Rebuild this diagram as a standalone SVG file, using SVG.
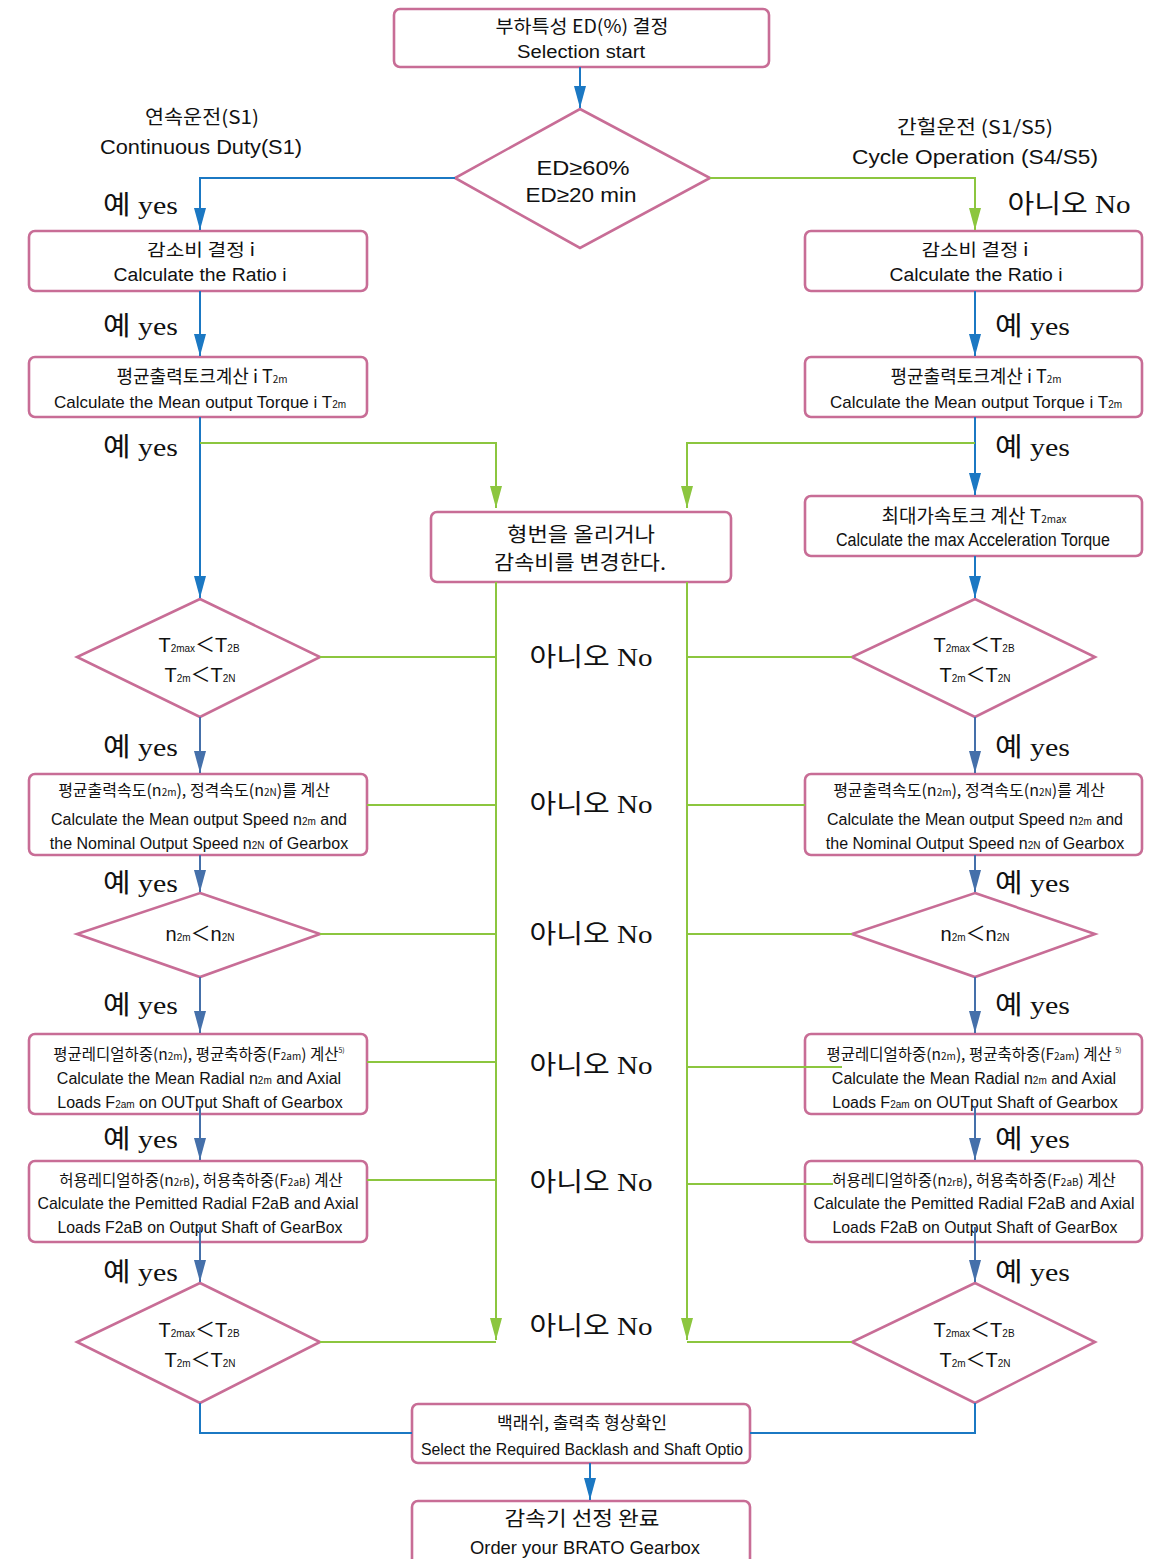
<svg xmlns="http://www.w3.org/2000/svg" width="1166" height="1559" viewBox="0 0 1166 1559">
<style>
.box{fill:#fff;stroke:#c86d96;stroke-width:2.6}
.t{font-family:"Liberation Sans","Noto Sans CJK KR",sans-serif;fill:#111;text-anchor:middle}
.k{font-family:"Noto Sans CJK KR","Liberation Sans",sans-serif;fill:#111;text-anchor:middle}
.s{font-family:"Liberation Serif","Noto Sans CJK KR",serif;fill:#111;font-size:26px}
.n{font-family:"Liberation Serif","Noto Sans CJK KR",serif;fill:#111;font-size:26px;text-anchor:middle}
.b{fill:none;stroke:#1b78c3;stroke-width:2}
.d{fill:none;stroke:#4570aa;stroke-width:2}
.g{fill:none;stroke:#8cc63f;stroke-width:2}
.sub{font-size:10px}
</style>
<defs>
<marker id="ab" viewBox="0 0 22 12" refX="22" refY="6" markerWidth="22" markerHeight="12" markerUnits="userSpaceOnUse" orient="auto"><path d="M0,0 L22,6 L0,12 z" fill="#1b78c3"/></marker>
<marker id="ad" viewBox="0 0 22 12" refX="22" refY="6" markerWidth="22" markerHeight="12" markerUnits="userSpaceOnUse" orient="auto"><path d="M0,0 L22,6 L0,12 z" fill="#4570aa"/></marker>
<marker id="ag" viewBox="0 0 22 12" refX="22" refY="6" markerWidth="22" markerHeight="12" markerUnits="userSpaceOnUse" orient="auto"><path d="M0,0 L22,6 L0,12 z" fill="#8cc63f"/></marker>
</defs>

<g id="start">
<rect class="box" x="394" y="9" width="375" height="58" rx="6"/>
<text class="k" x="582" y="33" font-size="18" textLength="173" lengthAdjust="spacingAndGlyphs">부하특성 ED(%) 결정</text>
<text class="t" x="581" y="58" font-size="18" textLength="128" lengthAdjust="spacingAndGlyphs">Selection start</text>
</g>

<g id="dec-ed">
<polygon class="box" points="580,109 710,178 580,248 455,178"/>
<text class="t" x="583" y="175" font-size="21" textLength="93" lengthAdjust="spacingAndGlyphs">ED≥60%</text>
<text class="t" x="581" y="202" font-size="21" textLength="111" lengthAdjust="spacingAndGlyphs">ED≥20 min</text>
</g>

<g id="labels">
<text class="k" x="202" y="124" font-size="19" textLength="114" lengthAdjust="spacingAndGlyphs">연속운전(S1)</text>
<text class="t" x="201" y="154" font-size="20" textLength="202" lengthAdjust="spacingAndGlyphs">Continuous Duty(S1)</text>
<text class="k" x="975" y="134" font-size="19" textLength="156" lengthAdjust="spacingAndGlyphs">간헐운전 (S1/S5)</text>
<text class="t" x="975" y="164" font-size="20" textLength="246" lengthAdjust="spacingAndGlyphs">Cycle Operation (S4/S5)</text>
<text class="s" x="103" y="214" textLength="75" lengthAdjust="spacingAndGlyphs">예 yes</text>
<text class="s" x="103" y="335" textLength="75" lengthAdjust="spacingAndGlyphs">예 yes</text>
<text class="s" x="103" y="456" textLength="75" lengthAdjust="spacingAndGlyphs">예 yes</text>
<text class="s" x="103" y="756" textLength="75" lengthAdjust="spacingAndGlyphs">예 yes</text>
<text class="s" x="103" y="892" textLength="75" lengthAdjust="spacingAndGlyphs">예 yes</text>
<text class="s" x="103" y="1014" textLength="75" lengthAdjust="spacingAndGlyphs">예 yes</text>
<text class="s" x="103" y="1148" textLength="75" lengthAdjust="spacingAndGlyphs">예 yes</text>
<text class="s" x="103" y="1281" textLength="75" lengthAdjust="spacingAndGlyphs">예 yes</text>
<text class="s" x="995" y="335" textLength="75" lengthAdjust="spacingAndGlyphs">예 yes</text>
<text class="s" x="995" y="456" textLength="75" lengthAdjust="spacingAndGlyphs">예 yes</text>
<text class="s" x="995" y="756" textLength="75" lengthAdjust="spacingAndGlyphs">예 yes</text>
<text class="s" x="995" y="892" textLength="75" lengthAdjust="spacingAndGlyphs">예 yes</text>
<text class="s" x="995" y="1014" textLength="75" lengthAdjust="spacingAndGlyphs">예 yes</text>
<text class="s" x="995" y="1148" textLength="75" lengthAdjust="spacingAndGlyphs">예 yes</text>
<text class="s" x="995" y="1281" textLength="75" lengthAdjust="spacingAndGlyphs">예 yes</text>
<text class="n" x="1069" y="213" textLength="123" lengthAdjust="spacingAndGlyphs">아니오 No</text>
<text class="n" x="591" y="666" textLength="123" lengthAdjust="spacingAndGlyphs">아니오 No</text>
<text class="n" x="591" y="813" textLength="123" lengthAdjust="spacingAndGlyphs">아니오 No</text>
<text class="n" x="591" y="943" textLength="123" lengthAdjust="spacingAndGlyphs">아니오 No</text>
<text class="n" x="591" y="1074" textLength="123" lengthAdjust="spacingAndGlyphs">아니오 No</text>
<text class="n" x="591" y="1191" textLength="123" lengthAdjust="spacingAndGlyphs">아니오 No</text>
<text class="n" x="591" y="1335" textLength="123" lengthAdjust="spacingAndGlyphs">아니오 No</text>
</g>

<g id="ratio-l">
<rect class="box" x="29" y="231" width="338" height="60" rx="6"/>
<text class="k" x="201" y="256" font-size="17" textLength="108" lengthAdjust="spacingAndGlyphs">감소비 결정 i</text>
<text class="t" x="200" y="281" font-size="18" textLength="173" lengthAdjust="spacingAndGlyphs">Calculate the Ratio i</text>
</g>
<g id="ratio-r">
<rect class="box" x="805" y="231" width="337" height="60" rx="6"/>
<text class="k" x="975" y="256" font-size="17" textLength="107" lengthAdjust="spacingAndGlyphs">감소비 결정 i</text>
<text class="t" x="976" y="281" font-size="18" textLength="173" lengthAdjust="spacingAndGlyphs">Calculate the Ratio i</text>
</g>

<g id="torque-l">
<rect class="box" x="29" y="357" width="338" height="60" rx="6"/>
<text class="k" x="202" y="383" font-size="18">평균출력토크계산 i T<tspan class="sub">2m</tspan></text>
<text class="t" x="200" y="408" font-size="17">Calculate the Mean output Torque i T<tspan class="sub">2m</tspan></text>
</g>
<g id="torque-r">
<rect class="box" x="805" y="357" width="337" height="60" rx="6"/>
<text class="k" x="976" y="383" font-size="18">평균출력토크계산 i T<tspan class="sub">2m</tspan></text>
<text class="t" x="976" y="408" font-size="17">Calculate the Mean output Torque i T<tspan class="sub">2m</tspan></text>
</g>

<g id="maxacc-r">
<rect class="box" x="805" y="496" width="337" height="60" rx="6"/>
<text class="k" x="974" y="523" font-size="19">최대가속토크 계산 T<tspan class="sub">2max</tspan></text>
<text class="t" x="973" y="546" font-size="18" textLength="274" lengthAdjust="spacingAndGlyphs">Calculate the max Acceleration Torque</text>
</g>

<g id="change">
<rect class="box" x="431" y="512" width="300" height="70" rx="6"/>
<text class="k" x="581" y="542" font-size="20" textLength="148" lengthAdjust="spacingAndGlyphs">형번을 올리거나</text>
<text class="k" x="580" y="570" font-size="20" textLength="172" lengthAdjust="spacingAndGlyphs">감속비를 변경한다.</text>
</g>

<g id="dec-t-l">
<polygon class="box" points="200,599 320,657 200,717 77,657"/>
<text class="t" x="199" y="652" font-size="20">T<tspan class="sub">2max</tspan>＜T<tspan class="sub">2B</tspan></text>
<text class="t" x="200" y="682" font-size="20">T<tspan class="sub">2m</tspan>＜T<tspan class="sub">2N</tspan></text>
</g>
<g id="dec-t-r">
<polygon class="box" points="975,599 1095,657 975,717 852,657"/>
<text class="t" x="974" y="652" font-size="20">T<tspan class="sub">2max</tspan>＜T<tspan class="sub">2B</tspan></text>
<text class="t" x="975" y="682" font-size="20">T<tspan class="sub">2m</tspan>＜T<tspan class="sub">2N</tspan></text>
</g>

<g id="speed-l">
<rect class="box" x="29" y="774" width="338" height="81" rx="6"/>
<text class="k" x="194" y="796" font-size="16">평균출력속도(n<tspan class="sub">2m</tspan>), 정격속도(n<tspan class="sub">2N</tspan>)를 계산</text>
<text class="t" x="199" y="825" font-size="16">Calculate the Mean output Speed n<tspan class="sub">2m</tspan> and</text>
<text class="t" x="199" y="849" font-size="16">the Nominal Output Speed n<tspan class="sub">2N</tspan> of Gearbox</text>
</g>
<g id="speed-r">
<rect class="box" x="805" y="774" width="337" height="81" rx="6"/>
<text class="k" x="969" y="796" font-size="16">평균출력속도(n<tspan class="sub">2m</tspan>), 정격속도(n<tspan class="sub">2N</tspan>)를 계산</text>
<text class="t" x="975" y="825" font-size="16">Calculate the Mean output Speed n<tspan class="sub">2m</tspan> and</text>
<text class="t" x="975" y="849" font-size="16">the Nominal Output Speed n<tspan class="sub">2N</tspan> of Gearbox</text>
</g>

<g id="dec-n-l">
<polygon class="box" points="200,893 320,934 200,977 77,934"/>
<text class="t" x="200" y="941" font-size="20">n<tspan class="sub">2m</tspan>＜n<tspan class="sub">2N</tspan></text>
</g>
<g id="dec-n-r">
<polygon class="box" points="975,893 1095,934 975,977 852,934"/>
<text class="t" x="975" y="941" font-size="20">n<tspan class="sub">2m</tspan>＜n<tspan class="sub">2N</tspan></text>
</g>

<g id="load-l">
<rect class="box" x="29" y="1034" width="338" height="80" rx="6"/>
<text class="k" x="199" y="1060" font-size="15.5">평균레디얼하중(n<tspan class="sub">2m</tspan>), 평균축하중(F<tspan class="sub">2am</tspan>) 계산<tspan font-size="7" dy="-7">5)</tspan></text>
<text class="t" x="199" y="1084" font-size="16">Calculate the Mean Radial n<tspan class="sub">2m</tspan> and Axial</text>
<text class="t" x="200" y="1108" font-size="16">Loads F<tspan class="sub">2am</tspan> on OUTput Shaft of Gearbox</text>
</g>
<g id="load-r">
<rect class="box" x="805" y="1034" width="337" height="80" rx="6"/>
<text class="k" x="974" y="1060" font-size="15.5">평균레디얼하중(n<tspan class="sub">2m</tspan>), 평균축하중(F<tspan class="sub">2am</tspan>) 계산 <tspan font-size="7" dy="-7">5)</tspan></text>
<text class="t" x="974" y="1084" font-size="16">Calculate the Mean Radial n<tspan class="sub">2m</tspan> and Axial</text>
<text class="t" x="975" y="1108" font-size="16">Loads F<tspan class="sub">2am</tspan> on OUTput Shaft of Gearbox</text>
</g>

<g id="perm-l">
<rect class="box" x="29" y="1161" width="338" height="81" rx="6"/>
<text class="k" x="201" y="1186" font-size="15.5">허용레디얼하중(n<tspan class="sub">2rB</tspan>), 허용축하중(F<tspan class="sub">2aB</tspan>) 계산</text>
<text class="t" x="198" y="1209" font-size="17" textLength="321" lengthAdjust="spacingAndGlyphs">Calculate the Pemitted Radial F2aB and Axial</text>
<text class="t" x="200" y="1233" font-size="17" textLength="285" lengthAdjust="spacingAndGlyphs">Loads F2aB on Output Shaft of GearBox</text>
</g>
<g id="perm-r">
<rect class="box" x="805" y="1161" width="337" height="81" rx="6"/>
<text class="k" x="974" y="1186" font-size="15.5">허용레디얼하중(n<tspan class="sub">2rB</tspan>), 허용축하중(F<tspan class="sub">2aB</tspan>) 계산</text>
<text class="t" x="974" y="1209" font-size="17" textLength="321" lengthAdjust="spacingAndGlyphs">Calculate the Pemitted Radial F2aB and Axial</text>
<text class="t" x="975" y="1233" font-size="17" textLength="285" lengthAdjust="spacingAndGlyphs">Loads F2aB on Output Shaft of GearBox</text>
</g>

<g id="dec-f-l">
<polygon class="box" points="200,1283 320,1342 200,1403 77,1342"/>
<text class="t" x="199" y="1337" font-size="20">T<tspan class="sub">2max</tspan>＜T<tspan class="sub">2B</tspan></text>
<text class="t" x="200" y="1367" font-size="20">T<tspan class="sub">2m</tspan>＜T<tspan class="sub">2N</tspan></text>
</g>
<g id="dec-f-r">
<polygon class="box" points="975,1283 1095,1342 975,1403 852,1342"/>
<text class="t" x="974" y="1337" font-size="20">T<tspan class="sub">2max</tspan>＜T<tspan class="sub">2B</tspan></text>
<text class="t" x="975" y="1367" font-size="20">T<tspan class="sub">2m</tspan>＜T<tspan class="sub">2N</tspan></text>
</g>

<g id="backlash">
<rect class="box" x="412" y="1404" width="338" height="59" rx="6"/>
<text class="k" x="582" y="1429" font-size="17" textLength="170" lengthAdjust="spacingAndGlyphs">백래쉬, 출력축 형상확인</text>
<text class="t" x="582" y="1455" font-size="17" textLength="322" lengthAdjust="spacingAndGlyphs">Select the Required Backlash and Shaft Optio</text>
</g>

<g id="finish">
<rect class="box" x="412" y="1501" width="338" height="70" rx="6"/>
<text class="k" x="582" y="1526" font-size="20" textLength="155" lengthAdjust="spacingAndGlyphs">감속기 선정 완료</text>
<text class="t" x="585" y="1554" font-size="19" textLength="230" lengthAdjust="spacingAndGlyphs">Order your BRATO Gearbox</text>
</g>

<g id="connectors">
<path class="b" d="M580,67 V108" marker-end="url(#ab)"/>
<path class="b" d="M455,178 H200 V230" marker-end="url(#ab)"/>
<path class="b" d="M200,291 V356" marker-end="url(#ab)"/>
<path class="b" d="M200,417 V598" marker-end="url(#ab)"/>
<path class="b" d="M975,291 V356" marker-end="url(#ab)"/>
<path class="b" d="M975,417 V495" marker-end="url(#ab)"/>
<path class="b" d="M975,556 V598" marker-end="url(#ab)"/>
<path class="b" d="M590,1463 V1500" marker-end="url(#ab)"/>
<path class="d" d="M200,717 V773" marker-end="url(#ad)"/>
<path class="d" d="M200,855 V892" marker-end="url(#ad)"/>
<path class="d" d="M200,977 V1033" marker-end="url(#ad)"/>
<path class="d" d="M200,1106 V1160" marker-end="url(#ad)"/>
<path class="d" d="M200,1227 V1282" marker-end="url(#ad)"/>
<path class="d" d="M975,717 V773" marker-end="url(#ad)"/>
<path class="d" d="M975,855 V892" marker-end="url(#ad)"/>
<path class="d" d="M975,977 V1033" marker-end="url(#ad)"/>
<path class="d" d="M975,1106 V1160" marker-end="url(#ad)"/>
<path class="d" d="M975,1227 V1282" marker-end="url(#ad)"/>
<path class="b" d="M200,1403 V1433 H412"/>
<path class="b" d="M975,1403 V1433 H750"/>
<path class="g" d="M710,178 H975 V230" marker-end="url(#ag)"/>
<path class="g" d="M200,443 H496 V508" marker-end="url(#ag)"/>
<path class="g" d="M975,443 H687 V508" marker-end="url(#ag)"/>
<path class="g" d="M496,582 V1340" marker-end="url(#ag)"/>
<path class="g" d="M687,582 V1340" marker-end="url(#ag)"/>
<path class="g" d="M320,657 H496 M367,805 H496 M320,934 H496 M367,1062 H496 M367,1180 H496 M320,1342 H496"/>
<path class="g" d="M687,657 H852 M687,805 H805 M687,934 H852 M687,1067 H842 M687,1184 H833 M687,1342 H852"/>
</g>
</svg>
